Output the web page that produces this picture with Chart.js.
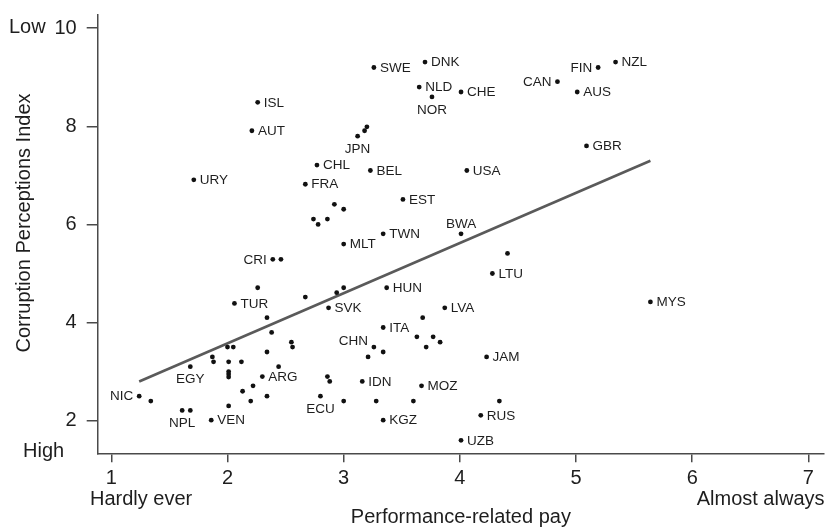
<!DOCTYPE html>
<html>
<head>
<meta charset="utf-8">
<script src="https://cdn.jsdelivr.net/npm/chart.js@4/dist/chart.umd.min.js"></script>
<style>
  html, body { margin: 0; padding: 0; background: #fff; }
  #wrap { width: 828px; height: 530px; }
</style>
</head>
<body>
<div id="wrap"><canvas id="c" width="828" height="530"></canvas></div>
<script>
// Country codes ('' = unlabelled country), performance-related pay score, CPI score
const countries = [
  'ISL','AUT','URY','CHL','FRA','SWE','DNK','NLD','NOR','CHE',
  'CAN','FIN','NZL','AUS','GBR','JPN','BEL','USA','EST','TWN',
  'MLT','BWA','LTU','CRI','TUR','HUN','SVK','LVA','MYS','ITA',
  'CHN','JAM','EGY','ARG','ECU','NIC','NPL','VEN','IDN','MOZ',
  'RUS','KGZ','UZB',
  '','','','','','','','','','',
  '','','','','','','','','','',
  '','','','','','','','','','',
  '','','','','','','','','','',
  '','','','','','','',''
];
const pay = [
  2.26, 2.21, 1.71, 2.77, 2.67, 3.26, 3.70, 3.65, 3.76, 4.01,
  4.84, 5.19, 5.34, 5.01, 5.09, 3.12, 3.23, 4.06, 3.51, 3.34,
  3.00, 4.01, 4.28, 2.39, 2.06, 3.37, 2.87, 3.87, 5.64, 3.34,
  3.26, 4.23, 1.68, 2.30, 2.80, 1.24, 1.61, 1.86, 3.16, 3.67,
  4.18, 3.34, 4.01,
  3.20, 3.18, 2.92, 3.00, 2.74, 2.78, 2.86, 4.41, 2.46, 2.26,
  2.67, 2.94, 3.00, 3.68, 2.34, 2.38, 3.63, 3.77, 3.83, 3.71,
  3.34, 3.21, 2.00, 2.05, 2.55, 2.56, 2.34, 1.87, 1.88, 2.01,
  2.12, 2.44, 2.01, 2.01, 2.01, 2.86, 2.88, 2.22, 2.13, 2.34,
  2.20, 3.00, 2.01, 1.34, 1.68, 3.28, 3.60, 4.34
];
const cpi = [
  8.49, 7.91, 6.91, 7.21, 6.82, 9.20, 9.31, 8.80, 8.60, 8.70,
  8.91, 9.20, 9.31, 8.70, 7.60, 7.80, 7.10, 7.10, 6.51, 5.81,
  5.60, 5.81, 5.00, 5.29, 4.39, 4.71, 4.30, 4.30, 4.42, 3.90,
  3.50, 3.30, 3.10, 2.90, 2.50, 2.50, 2.21, 2.01, 2.80, 2.71,
  2.11, 2.01, 1.60,
  7.99, 7.91, 6.41, 6.31, 6.11, 6.00, 6.11, 5.41, 5.29, 4.71,
  4.52, 4.61, 4.71, 4.10, 4.10, 3.80, 3.71, 3.71, 3.60, 3.50,
  3.40, 3.30, 3.50, 3.50, 3.60, 3.50, 3.40, 3.30, 3.20, 3.20,
  3.20, 3.10, 3.00, 2.95, 2.89, 2.90, 2.80, 2.71, 2.60, 2.50,
  2.40, 2.40, 2.30, 2.40, 2.21, 2.40, 2.40, 2.40
];

// Fitted line, drawn between its two end points
const fitPay = [1.24, 5.64];
const fitCpi = [2.80, 7.30];

// Axis ticks
const xTicks = [1, 2, 3, 4, 5, 6, 7];
const yTicks = [2, 4, 6, 8, 10];

// Where each country code sits relative to its dot (default: right)
const labelSide = {
  NOR: 'below', JPN: 'below', EGY: 'below', NPL: 'below', ECU: 'below',
  BWA: 'above',
  FIN: 'left', CAN: 'left', CRI: 'left', NIC: 'left',
  CHN: 'leftUp'
};

const FONT = '"Liberation Sans", Arial, Helvetica, sans-serif';
const INK = '#1e1e1e';
const AXIS = '#4a4a4a';

const points = pay.map((v, i) => ({ x: v, y: cpi[i] }));
const fitLine = fitPay.map((v, i) => ({ x: v, y: fitCpi[i] }));

const countryLabels = {
  id: 'countryLabels',
  afterDatasetsDraw(chart) {
    const ctx = chart.ctx;
    const meta = chart.getDatasetMeta(1);
    ctx.save();
    ctx.font = '13.5px ' + FONT;
    ctx.fillStyle = INK;
    meta.data.forEach((el, i) => {
      const name = countries[i];
      if (!name) return;
      const side = labelSide[name] || 'right';
      let x = el.x, y = el.y;
      ctx.textBaseline = 'middle';
      if (side === 'right') { ctx.textAlign = 'left'; x += 6; y += 0.5; }
      else if (side === 'left') { ctx.textAlign = 'right'; x -= 6; y += 0.5; }
      else if (side === 'leftUp') { ctx.textAlign = 'right'; x -= 6; y -= 6; }
      else if (side === 'below') { ctx.textAlign = 'center'; y += 13; }
      else if (side === 'above') { ctx.textAlign = 'center'; y -= 10; }
      ctx.fillText(name, x, y);
    });
    ctx.restore();
  }
};

const axisNotes = {
  id: 'axisNotes',
  afterDraw(chart) {
    const ctx = chart.ctx;
    const area = chart.chartArea;
    const ys = chart.scales.y;
    ctx.save();
    ctx.fillStyle = INK;
    ctx.font = '20px ' + FONT;
    ctx.textBaseline = 'alphabetic';

    // Ends of the CPI scale
    ctx.textAlign = 'left';
    ctx.fillText('Low', 9, ys.getPixelForValue(10) + 5);
    ctx.fillText('High', 23, area.bottom + 4);

    // Ends of the pay scale
    ctx.fillText('Hardly ever', 90, 505);
    ctx.textAlign = 'right';
    ctx.fillText('Almost always', 824.5, 505);

    // Axis titles
    ctx.textAlign = 'center';
    ctx.fillText('Performance-related pay', (area.left + area.right) / 2, 523);

    ctx.translate(30, 223);
    ctx.rotate(-Math.PI / 2);
    ctx.textAlign = 'center';
    ctx.fillText('Corruption Perceptions Index', 0, 0);
    ctx.restore();
  }
};

Chart.defaults.font.family = FONT;
Chart.defaults.color = INK;

new Chart(document.getElementById('c'), {
  type: 'scatter',
  data: {
    datasets: [
      {
        label: 'fit',
        data: fitLine,
        showLine: true,
        borderColor: '#5a5a5a',
        borderWidth: 2.6,
        pointRadius: 0,
        fill: false,
        order: 2
      },
      {
        label: 'countries',
        data: points,
        pointRadius: 2.4,
        pointBackgroundColor: '#111',
        pointBorderWidth: 0,
        order: 1
      }
    ]
  },
  options: {
    responsive: false,
    animation: false,
    devicePixelRatio: 1,
    events: [],
    layout: { padding: { top: 15, right: 3.3, left: 0, bottom: 0 } },
    plugins: {
      legend: { display: false },
      tooltip: { enabled: false },
      title: { display: false }
    },
    scales: {
      x: {
        type: 'linear',
        min: 0.883,
        max: 7.134,
        afterBuildTicks(scale) { scale.ticks = xTicks.map(v => ({ value: v })); },
        afterFit(scale) {
          scale.height = 76.7;
          scale.paddingLeft = 0;
          scale.paddingRight = 0;
        },
        border: { display: true, color: AXIS, width: 1.5 },
        grid: { drawOnChartArea: false, drawTicks: true, tickLength: 9, color: AXIS, lineWidth: 1.5 },
        ticks: { font: { size: 20 }, color: INK, padding: 4, maxRotation: 0, autoSkip: false }
      },
      y: {
        type: 'linear',
        min: 1.335,
        max: 10.27,
        afterBuildTicks(scale) { scale.ticks = yTicks.map(v => ({ value: v })); },
        afterFit(scale) {
          scale.width = 97.7;
          scale.paddingTop = 0;
          scale.paddingBottom = 0;
        },
        border: { display: true, color: AXIS, width: 1.5 },
        grid: { drawOnChartArea: false, drawTicks: true, tickLength: 11, color: AXIS, lineWidth: 1.5 },
        ticks: { font: { size: 20 }, color: INK, padding: 10, autoSkip: false }
      }
    }
  },
  plugins: [countryLabels, axisNotes]
});
</script>
</body>
</html>
